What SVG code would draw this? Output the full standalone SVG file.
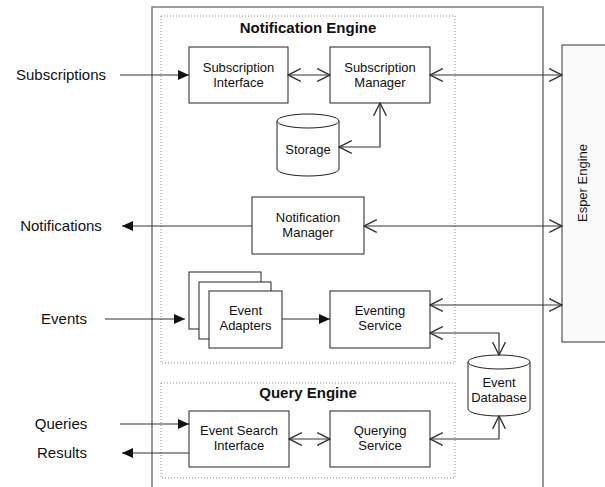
<svg xmlns="http://www.w3.org/2000/svg" width="605" height="487" viewBox="0 0 605 487">
  <style>
    .box { fill: #ffffff; stroke: #222222; stroke-width: 1; }
    .grp { fill: none; stroke: #8a8a8a; stroke-width: 1; stroke-dasharray: 1 2; }
    .frame { fill: none; stroke: #7f7f7f; stroke-width: 1.6; }
    .lbl { font-family: "Liberation Sans", Arial, sans-serif; font-size: 13px; fill: #111111; text-anchor: middle; }
    .ext { font-family: "Liberation Sans", Arial, sans-serif; font-size: 15px; fill: #111111; text-anchor: middle; }
    .ttl { font-family: "Liberation Sans", Arial, sans-serif; font-size: 15px; font-weight: bold; fill: #111111; text-anchor: middle; }
    .wire { fill: none; stroke: #333333; stroke-width: 1.2; }
    .two { marker-start: url(#open); marker-end: url(#open); }
    .one { marker-end: url(#solid); }
  </style>
  <defs>
    <marker id="open" markerUnits="userSpaceOnUse" markerWidth="14" markerHeight="14" viewBox="0 0 12 12" refX="11" refY="6" orient="auto-start-reverse">
      <path d="M0,0.5 L11,6 L0,11.5" fill="none" stroke="#333333" stroke-width="1.2"/>
    </marker>
    <marker id="solid" markerUnits="userSpaceOnUse" markerWidth="12" markerHeight="12" viewBox="0 0 12 12" refX="11" refY="6" orient="auto">
      <path d="M0,1 L11,6 L0,11 Z" fill="#111111"/>
    </marker>
  </defs>

  <!-- outer system frame -->
  <path class="frame" d="M152,488 L152,7 L543,7 L543,488"/>

  <!-- subsystem groupings -->
  <g id="notification-engine">
    <rect class="grp" x="161" y="16" width="294" height="347"/>
    <text class="ttl" x="308" y="33">Notification Engine</text>
  </g>
  <g id="query-engine">
    <rect class="grp" x="161" y="383" width="294" height="95"/>
    <text class="ttl" x="308" y="398">Query Engine</text>
  </g>

  <!-- external engine -->
  <g id="esper-engine">
    <rect x="562" y="45" width="50" height="297" fill="#fafafa" stroke="#333333" stroke-width="1"/>
    <text class="lbl" transform="translate(587,183) rotate(-90)">Esper Engine</text>
  </g>

  <!-- components -->
  <g id="subscription-interface">
    <rect class="box" x="189" y="47" width="99" height="56"/>
    <text class="lbl" x="238.5" y="71.5">Subscription</text>
    <text class="lbl" x="238.5" y="86.5">Interface</text>
  </g>
  <g id="subscription-manager">
    <rect class="box" x="330" y="47" width="100" height="56"/>
    <text class="lbl" x="380" y="71.5">Subscription</text>
    <text class="lbl" x="380" y="86.5">Manager</text>
  </g>
  <g id="storage">
    <path class="box" d="M277,121 A31,7 0 0 1 339,121 L339,169 A31,7 0 0 1 277,169 Z"/>
    <path class="box" fill="none" d="M277,121 A31,7 0 0 0 339,121"/>
    <text class="lbl" x="308" y="154">Storage</text>
  </g>
  <g id="notification-manager">
    <rect class="box" x="252" y="197" width="112" height="57"/>
    <text class="lbl" x="308" y="221.5">Notification</text>
    <text class="lbl" x="308" y="236.5">Manager</text>
  </g>
  <g id="event-adapters">
    <rect class="box" x="189" y="272" width="72" height="57"/>
    <rect class="box" x="199" y="282" width="72" height="57"/>
    <rect class="box" x="209" y="291" width="73" height="57"/>
    <text class="lbl" x="245.5" y="315">Event</text>
    <text class="lbl" x="245.5" y="330">Adapters</text>
  </g>
  <g id="eventing-service">
    <rect class="box" x="330" y="291" width="100" height="57"/>
    <text class="lbl" x="380" y="315">Eventing</text>
    <text class="lbl" x="380" y="330">Service</text>
  </g>
  <g id="event-database">
    <path class="box" d="M468,362 A31,7 0 0 1 530,362 L530,409 A31,7 0 0 1 468,409 Z"/>
    <path class="box" fill="none" d="M468,362 A31,7 0 0 0 530,362"/>
    <text class="lbl" x="499" y="386.5">Event</text>
    <text class="lbl" x="499" y="401.5">Database</text>
  </g>
  <g id="event-search-interface">
    <rect class="box" x="189" y="411" width="100" height="56"/>
    <text class="lbl" x="239" y="435">Event Search</text>
    <text class="lbl" x="239" y="450">Interface</text>
  </g>
  <g id="querying-service">
    <rect class="box" x="330" y="411" width="100" height="56"/>
    <text class="lbl" x="380" y="435">Querying</text>
    <text class="lbl" x="380" y="450">Service</text>
  </g>

  <!-- external inputs and outputs -->
  <g id="external-labels">
    <text class="ext" x="61" y="80">Subscriptions</text>
    <text class="ext" x="61" y="231">Notifications</text>
    <text class="ext" x="64" y="324">Events</text>
    <text class="ext" x="61" y="429">Queries</text>
    <text class="ext" x="62" y="458">Results</text>
  </g>

  <!-- connectors -->
  <g id="connectors">
    <line class="wire one" x1="120" y1="75" x2="189" y2="75"/>
    <line class="wire two" x1="288" y1="75" x2="330" y2="75"/>
    <line class="wire two" x1="430" y1="75" x2="562" y2="75"/>
    <polyline class="wire two" points="339,147 380,147 380,103"/>
    <line class="wire one" x1="252" y1="226" x2="122" y2="226"/>
    <line class="wire two" x1="364" y1="226" x2="562" y2="226"/>
    <line class="wire one" x1="105" y1="319" x2="185" y2="319"/>
    <line class="wire one" x1="282" y1="319" x2="330" y2="319"/>
    <line class="wire two" x1="430" y1="305" x2="562" y2="305"/>
    <polyline class="wire two" points="430,333 499,333 499,355"/>
    <line class="wire one" x1="120" y1="424" x2="189" y2="424"/>
    <line class="wire one" x1="189" y1="453" x2="122" y2="453"/>
    <line class="wire two" x1="289" y1="439" x2="330" y2="439"/>
    <polyline class="wire two" points="430,439 499,439 499,416"/>
  </g>
</svg>
